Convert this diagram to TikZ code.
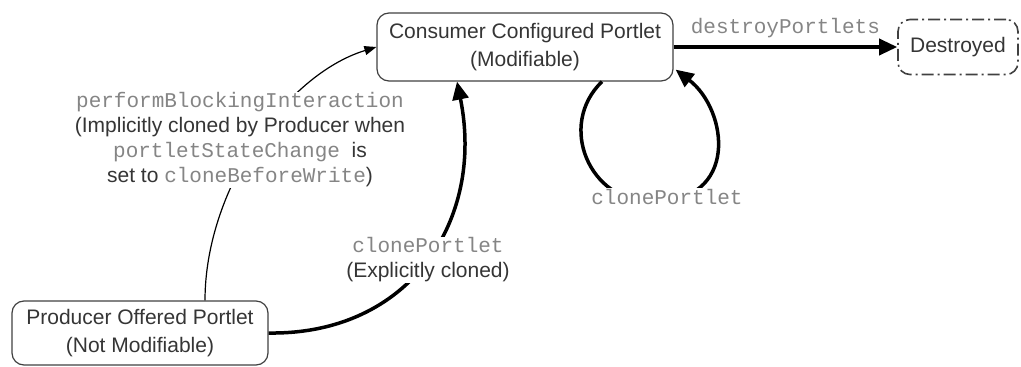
\documentclass[tikz,border=0pt]{standalone}
\usepackage{fontspec}
\setmainfont{Liberation Sans}
\setmonofont{Liberation Mono}
\usetikzlibrary{arrows.meta}
\definecolor{txtgray}{HTML}{353535}
\definecolor{codegray}{HTML}{858585}
\newcommand{\op}[1]{{\color{codegray}\texttt{#1}}}

\begin{document}
\begin{tikzpicture}[
    x=1pt, y=-1pt,
    font=\fontsize{21}{25}\selectfont,
    state/.style={rectangle, draw=black!75, line width=1.2pt, rounded corners=12pt, align=center, text=txtgray, font=\fontsize{21}{28}\selectfont},
    gone/.style={state, dash pattern=on 12pt off 4pt on 2pt off 4pt, line width=1.6pt},
    lbl/.style={fill=white, inner sep=1pt, align=center, text=txtgray},
    call/.style={-{Triangle[length=18pt, width=16pt]}, line width=3.5pt},
    implicit/.style={-{Triangle[length=12pt, width=9pt]}, line width=1.2pt}
]
    \useasboundingbox (0,0) rectangle (1021,367);

    \node[state, minimum width=296pt, minimum height=68pt] (cons) at (525,47) {Consumer Configured Portlet\\(Modifiable)};
    \node[state, minimum width=256pt, minimum height=64pt] (prod) at (140,333) {Producer Offered Portlet\\(Not Modifiable)};
    \node[gone, minimum width=120pt, minimum height=55pt] (dest) at (958,47) {Destroyed};

    % transitions
    \draw[implicit] ([xshift=65pt]prod.north) .. controls (205,190) and (285,75) .. (cons.west);
    \draw[call] (prod.east) .. controls (410,335) and (485,220) .. ([xshift=-68pt]cons.south);
    \draw[call] ([xshift=77pt]cons.south) .. controls (557,125) and (589,202) .. (652,202)
        .. controls (740,202) and (728,110) .. ([shift={(2pt,12pt)}]cons.south east);
    \draw[call] (cons.east) -- (dest.west) node[midway, above=4pt, text=codegray, font=\fontsize{21}{25}\ttfamily] (destLbl) {destroyPortlets};

    % labels over the curves
    \node[lbl] (implLbl) at (240,140) {\op{performBlockingInteraction}\\(Implicitly cloned by Producer when\\\op{portletStateChange}\ \ is\\set to \op{cloneBeforeWrite})};
    \node[lbl] (explLbl) at (428,260) {\op{clonePortlet}\\(Explicitly cloned)};
    \node[lbl] (loopLbl) at (667,197) {\op{clonePortlet}};
\end{tikzpicture}
\end{document}
